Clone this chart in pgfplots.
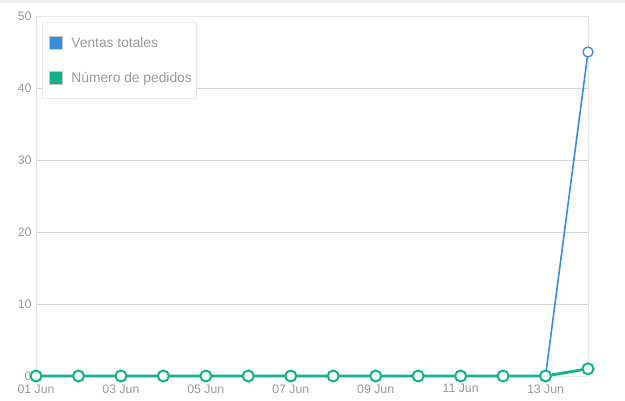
\documentclass[border=0pt]{standalone}
\usepackage{pgfplots}
\pgfplotsset{compat=1.18}
\usepackage{fontspec}
\setmainfont{Liberation Sans}
\definecolor{vblue}{HTML}{3A8DDE}
\definecolor{pgreen}{HTML}{12B28C}
\definecolor{tickgray}{HTML}{9A9A9A}
\definecolor{gridgray}{HTML}{D6D6D6}
\definecolor{framegray}{HTML}{E8E8E8}
\begin{document}
\begin{tikzpicture}[x=1bp,y=1bp]
\useasboundingbox (-36bp,-25bp) rectangle (589bp,376bp);
\fill[framegray!70] (-36bp,373bp) rectangle (589bp,376bp);
\begin{axis}[
  at={(0,0)}, anchor=south west,
  scale only axis, width=552bp, height=360bp,
  xmin=0, xmax=13, ymin=0, ymax=50,
  xtick={0,2,4,6,8,10,12},
  xticklabels={01 Jun,03 Jun,05 Jun,07 Jun,09 Jun,11 Jun,13 Jun},
  ytick={0,10,20,30,40,50},
  major tick length=0pt,
  ymajorgrids, grid style={gridgray, line width=0.8bp},
  axis line style={framegray, line width=0.8bp},
  tick label style={font=\fontsize{12.3bp}{14bp}\selectfont, text=tickgray},
  /pgf/number format/assume math mode=true,
  xticklabel style={yshift=-5bp},
  yticklabel style={xshift=-1bp},
  clip=false,
  legend style={at={(6bp,354bp)}, anchor=north west, draw=framegray, line width=0.8bp,
    font=\fontsize{13.8bp}{16bp}\selectfont, text=tickgray,
    inner xsep=3bp, inner ysep=13bp, row sep=19bp, cells={anchor=west},
    /tikz/every even column/.append style={column sep=0bp}},
  legend cell align=left,
]
\addplot[vblue, line width=1.6bp, mark=*, mark size=5bp, mark options={fill=white, draw=vblue, line width=1.3bp},
  legend image code/.code={\path[draw=none,fill=none] (0bp,0bp) -- (24bp,0bp); \draw[gray!45, line width=0.8bp, fill=vblue] (4bp,-6.5bp) rectangle (17bp,6.5bp);}]
  coordinates {(0,0) (1,0) (2,0) (3,0) (4,0) (5,0) (6,0) (7,0) (8,0) (9,0) (10,0) (11,0) (12,0) (13,45)};
\addlegendentry{Ventas totales\hspace{42bp}}
\addplot[pgreen, line width=2.8bp, mark=*, mark size=5.5bp, mark options={fill=white, draw=pgreen, line width=2bp},
  legend image code/.code={\path[draw=none,fill=none] (0bp,0bp) -- (24bp,0bp); \draw[gray!45, line width=0.8bp, fill=pgreen] (4bp,-6.5bp) rectangle (17bp,6.5bp);}]
  coordinates {(0,0) (1,0) (2,0) (3,0) (4,0) (5,0) (6,0) (7,0) (8,0) (9,0) (10,0) (11,0) (12,0) (13,1)};
\addlegendentry{Número de pedidos}
\end{axis}
\end{tikzpicture}
\end{document}
